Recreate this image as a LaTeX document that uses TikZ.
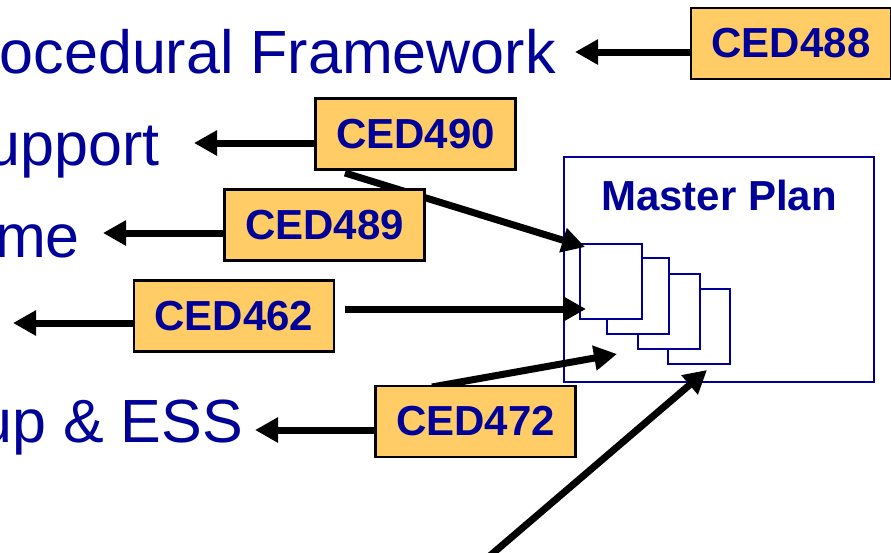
\documentclass[tikz,border=0pt]{standalone}
\usepackage{fontspec}
\setmainfont{Liberation Sans}
\usetikzlibrary{arrows.meta}
\definecolor{plannavy}{RGB}{0,0,153}
\definecolor{cedorange}{RGB}{255,204,102}
\tikzset{
  cedbox/.style={draw=black, line width=2.5pt, fill=cedorange, text=plannavy,
    minimum width=200pt, minimum height=71pt, inner sep=0pt,
    font=\fontsize{42}{48}\selectfont\bfseries},
  bigtext/.style={text=plannavy, inner sep=0pt, anchor=base east,
    font=\fontsize{61}{70}\selectfont},
  fatarrow/.style={line width=7pt, -{Triangle[length=23pt,width=24pt]}},
  sheet/.style={draw=plannavy, line width=1.8pt, fill=white}
}
\begin{document}
\begin{tikzpicture}[x=1pt,y=-1pt]
    \useasboundingbox (0,0) rectangle (891,552);

    % Left column texts
    \node[bigtext] (tproc) at (556,73) {ocedural Framework};
    \node[bigtext] (tsupp) at (160,165) {upport};
    \node[bigtext] (tme) at (80,257) {me};
    \node[bigtext] (tess) at (243,442) {up \& ESS};

    % Master Plan frame
    \draw[draw=plannavy, line width=1.8pt] (564,157) rectangle (874,382);
    \node[text=plannavy, anchor=base, inner sep=0pt,
      font=\fontsize{42}{48}\selectfont\bfseries] (mplan) at (719,210) {Master Plan};

    % Stack of sheets (back to front)
    \draw[sheet] (668,289) rectangle (730,364);
    \draw[sheet] (638,274) rectangle (700,349);
    \draw[sheet] (607,258) rectangle (669,334);
    \draw[sheet] (580,244) rectangle (642,319);

    % Arrow ends
    \coordinate (pA) at (585,247);
    \coordinate (pB) at (586,309);
    \coordinate (pC) at (617,354);
    \coordinate (pD) at (707,370);
    \coordinate (sB) at (345,309);
    \coordinate (sA) at (345,173);
    \coordinate (sC) at (432,387);
    \coordinate (sD) at (485,560);

    % Arrows into the Master Plan
    \draw[fatarrow] (sA) -- (pA);
    \draw[fatarrow] (sB) -- (pB);
    \draw[fatarrow] (sC) -- (pC);
    \draw[fatarrow] (sD) -- (pD);

    % CED boxes
    \node[cedbox] (ced488) at (791,43.5) {CED488};
    \node[cedbox] (ced490) at (415.5,134) {CED490};
    \node[cedbox] (ced489) at (324.5,225) {CED489};
    \node[cedbox] (ced462) at (234,316) {CED462};
    \node[cedbox] (ced472) at (475.5,421.5) {CED472};

    % Arrows to the left texts
    \coordinate (tA) at (575,52);
    \coordinate (tB) at (194,143);
    \coordinate (tC) at (103,233);
    \coordinate (tD) at (13,323);
    \coordinate (tE) at (255,430);
    \draw[fatarrow] ([yshift=-8.5pt]ced488.west) -- (tA);
    \draw[fatarrow] ([yshift=-9pt]ced490.west) -- (tB);
    \draw[fatarrow] ([yshift=-8pt]ced489.west) -- (tC);
    \draw[fatarrow] ([yshift=-7pt]ced462.west) -- (tD);
    \draw[fatarrow] ([yshift=-8.5pt]ced472.west) -- (tE);

\end{tikzpicture}
\end{document}
